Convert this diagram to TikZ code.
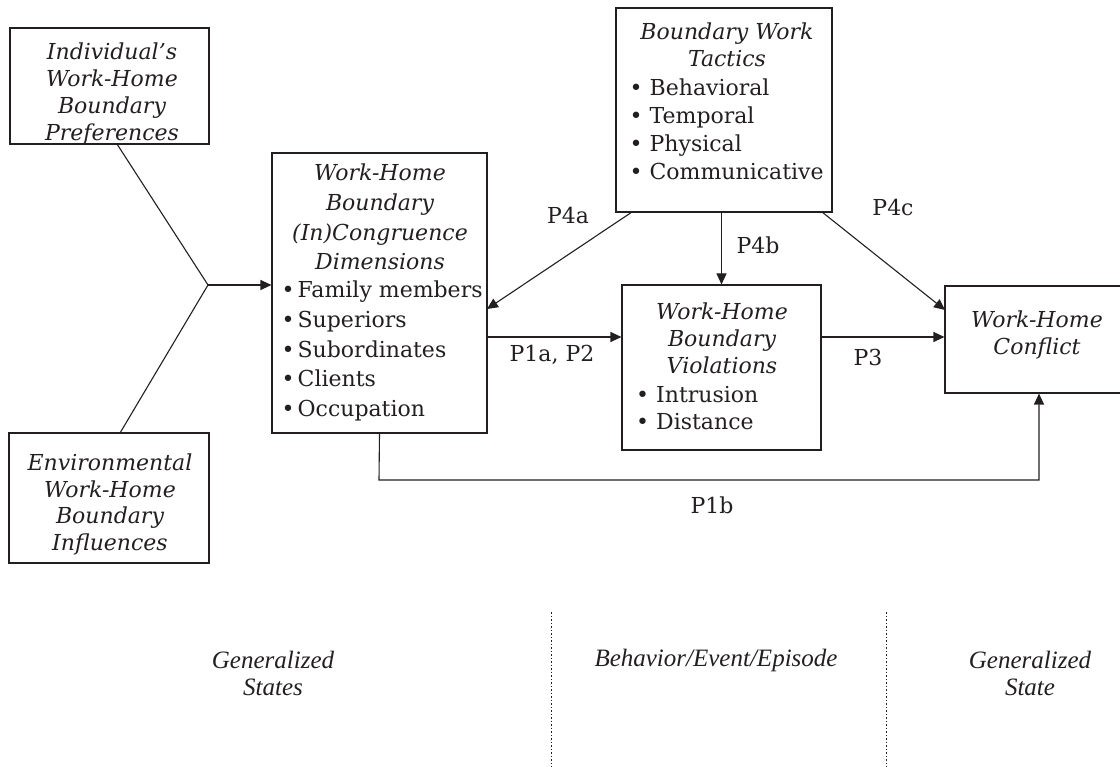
\documentclass[tikz,border=0pt]{standalone}
\usepackage{fontspec}
\setmainfont{DejaVu Serif}
\newfontfamily\labfont{Liberation Serif}
\usetikzlibrary{arrows.meta}
\definecolor{ink}{RGB}{35,31,32}
\begin{document}
\begin{tikzpicture}[x=1pt,y=-1pt,
  box/.style={draw=ink, line width=1.1pt, inner sep=0pt},
  conn/.style={draw=ink, line width=1.1pt},
  arr/.style={conn, -{Triangle[length=11pt,width=10pt]}},
  ttl/.style={inner sep=0pt, anchor=north, align=center, text=ink, font=\fontsize{22}{#1}\selectfont\itshape},
  lst/.style={inner sep=0pt, anchor=north west, align=left, text=ink, font=\fontsize{22}{#1}\selectfont},
  plab/.style={inner sep=0pt, text=ink, font=\fontsize{22}{27}\selectfont},
  bot/.style={inner sep=0pt, align=center, text=ink, font=\labfont\fontsize{25}{27}\selectfont\itshape},
  sep/.style={draw=ink, line width=1pt, dash pattern=on 1.5pt off 2pt}]
\useasboundingbox (0,0) rectangle (1120,767);
\clip (0,0) rectangle (1120,767);

% boxes
\node[box, minimum width=199pt, minimum height=116pt] (pref) at (109.5,86) {};
\node[box, minimum width=200pt, minimum height=130pt] (env) at (109,498) {};
\node[box, minimum width=215pt, minimum height=280pt] (incong) at (379.5,293) {};
\node[box, minimum width=216pt, minimum height=204pt] (tact) at (724,110) {};
\node[box, minimum width=199pt, minimum height=165pt] (viol) at (721.5,367.5) {};
\node[box, minimum width=188pt, minimum height=107pt] (confl) at (1039,339.5) {};

% texts
\node[ttl=27] (preft) at (112,43) {Individual's\\Work-Home\\Boundary\\Preferences};
\node[ttl=26.5] (envt) at (110,454) {Environmental\\Work-Home\\Boundary\\Influences};
\node[ttl=29.6] (incongt) at (380,164) {Work-Home\\Boundary\\(In)Congruence\\Dimensions};
\node[lst=29.6] (incongl) at (281.5,281) {\textbullet\hspace{3pt}Family members\\\textbullet\hspace{3pt}Superiors\\\textbullet\hspace{3pt}Subordinates\\\textbullet\hspace{3pt}Clients\\\textbullet\hspace{3pt}Occupation};
\node[ttl=27] (tactt) at (727,23) {Boundary Work\\Tactics};
\node[lst=28] (tactl) at (629.5,79) {\textbullet\ Behavioral\\\textbullet\ Temporal\\\textbullet\ Physical\\\textbullet\ Communicative};
\node[ttl=27] (violt) at (722,303) {Work-Home\\Boundary\\Violations};
\node[lst=27] (violl) at (636,386) {\textbullet\ Intrusion\\\textbullet\ Distance};
\node[ttl=27] (conflt) at (1037,311) {Work-Home\\Conflict};

% connectors
\coordinate (j) at (208,285);
\coordinate (pa) at (117,144);
\coordinate (ea) at (120,433);
\draw[conn] (pa) -- (j);
\draw[conn] (ea) -- (j);
\draw[arr] (j) -- (j -| incong.west);

\coordinate (t4a) at (632,212);
\coordinate (e4a) at (487,309);
\draw[arr] (t4a) -- (e4a);
\draw[arr] (tact.south -| viol.north) -- (viol.north);
\coordinate (t4c) at (822,212);
\coordinate (e4c) at (945,310);
\draw[arr] (t4c) -- (e4c);

\coordinate (y337) at (0,337);
\draw[arr] (incong.east |- y337) -- (viol.west |- y337);
\draw[arr] (viol.east |- y337) -- (confl.west |- y337);

\coordinate (b1) at (379,480);
\coordinate (b2) at (1039,480);
\draw[arr] (incong.south) -- (b1) -- (b2) -- (confl.south);

% proposition labels
\node[plab] (l4a) at (568,215) {P4a};
\node[plab] (l4b) at (758,245) {P4b};
\node[plab] (l4c) at (893,207) {P4c};
\node[plab] (l1a) at (552,355) {P1a, P2};
\node[plab] (l3) at (868,357) {P3};
\node[plab] (l1b) at (712,505) {P1b};

% bottom
\coordinate (s1t) at (551,612); \coordinate (s1b) at (551,767);
\coordinate (s2t) at (886,612); \coordinate (s2b) at (886,767);
\draw[sep] (s1t) -- (s1b);
\draw[sep] (s2t) -- (s2b);
\node[bot] (gs1) at (273,673) {Generalized\\States};
\node[bot] (bee) at (716,660) {Behavior/Event/Episode};
\node[bot] (gs2) at (1030,673) {Generalized\\State};
\end{tikzpicture}
\end{document}
